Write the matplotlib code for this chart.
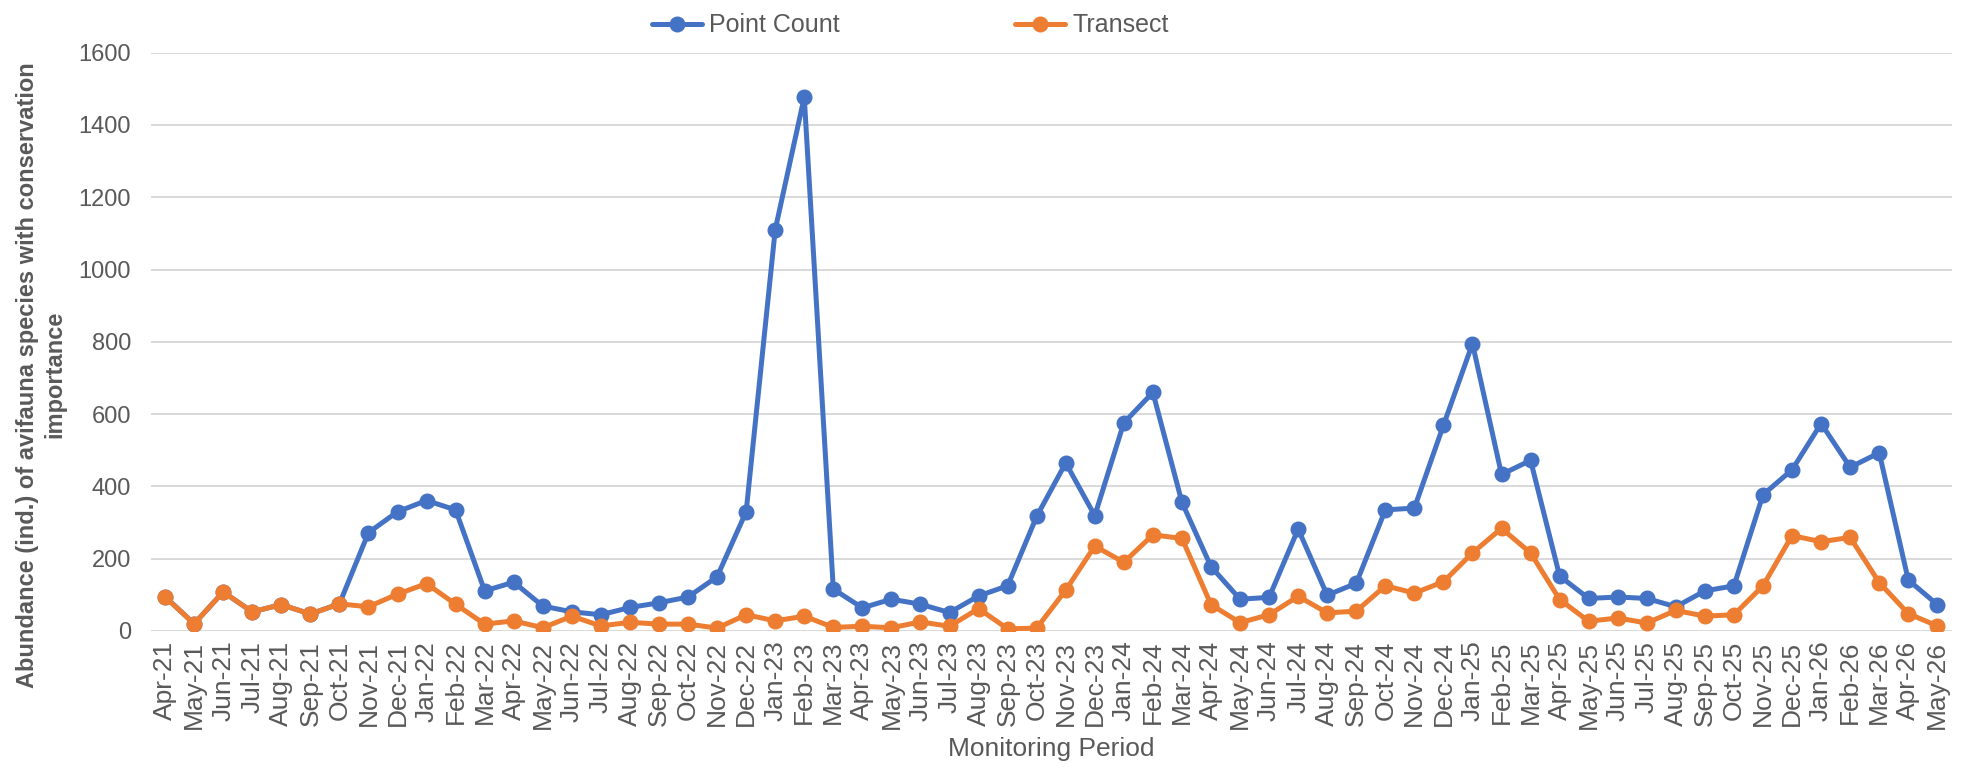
import matplotlib
matplotlib.use("Agg")
import matplotlib.pyplot as plt

plt.rcParams['font.family'] = ['Liberation Sans', 'DejaVu Sans']

months = ["Apr-21", "May-21", "Jun-21", "Jul-21", "Aug-21", "Sep-21", "Oct-21", "Nov-21", "Dec-21",
          "Jan-22", "Feb-22", "Mar-22", "Apr-22", "May-22", "Jun-22", "Jul-22", "Aug-22", "Sep-22",
          "Oct-22", "Nov-22", "Dec-22", "Jan-23", "Feb-23", "Mar-23", "Apr-23", "May-23", "Jun-23",
          "Jul-23", "Aug-23", "Sep-23", "Oct-23", "Nov-23", "Dec-23", "Jan-24", "Feb-24", "Mar-24",
          "Apr-24", "May-24", "Jun-24", "Jul-24", "Aug-24", "Sep-24", "Oct-24", "Nov-24", "Dec-24",
          "Jan-25", "Feb-25", "Mar-25", "Apr-25", "May-25", "Jun-25", "Jul-25", "Aug-25", "Sep-25",
          "Oct-25", "Nov-25", "Dec-25", "Jan-26", "Feb-26", "Mar-26", "Apr-26", "May-26"]

point_count = [95, 20, 108, 53, 73, 47, 75, 272, 330,
               361, 335, 111, 135, 69, 53, 45, 65, 78,
               94, 150, 330, 1110, 1477, 116, 64, 88, 74,
               51, 97, 125, 317, 465, 319, 576, 660, 356,
               178, 88, 93, 282, 99, 132, 335, 340, 569,
               795, 433, 472, 152, 90, 94, 90, 67, 111,
               125, 377, 446, 574, 453, 493, 141, 73]

transect = [94, 20, 108, 53, 73, 47, 75, 67, 102,
            131, 74, 19, 28, 9, 41, 14, 24, 19,
            19, 8, 45, 28, 41, 10, 13, 9, 25,
            13, 62, 6, 8, 113, 235, 190, 266, 256,
            73, 23, 45, 96, 50, 55, 125, 105, 136,
            216, 284, 216, 87, 27, 36, 22, 57, 41,
            45, 125, 264, 247, 259, 134, 48, 14]

series_names = ["Point Count", "Transect"]
colors = ["#4472C4", "#ED7D31"]
text_color = "#595959"

fig = plt.figure(figsize=(19.68, 7.68), dpi=100)
ax = fig.add_axes([0.0765, 0.1784, 0.9153, 0.753])

x = list(range(len(months)))
for vals, name, c in zip([point_count, transect], series_names, colors):
    ax.plot(x, vals, color=c, lw=3.6, marker='o', markersize=10.5, label=name,
            solid_joinstyle='round', solid_capstyle='round')

ax.set_xlim(-0.5, len(months) - 0.5)
ax.set_ylim(0, 1600)
ax.set_yticks(range(0, 1601, 200))
ax.set_xticks(x)
ax.set_xticklabels(months, rotation=90, fontsize=19, color=text_color)
ax.tick_params(axis='y', labelsize=17, labelcolor=text_color, length=0, pad=14)
ax.tick_params(axis='x', length=0, pad=7)
ax.grid(axis='y', color='#D9D9D9', lw=1.4)
ax.set_axisbelow(True)
for s in ax.spines.values():
    s.set_visible(False)

ax.set_xlabel("Monitoring Period", fontsize=19, color=text_color, labelpad=6)
fig.text(0.021, 0.512, "Abundance (ind.) of avifauna species with conservation\nimportance",
         rotation=90, ha='center', va='center', fontsize=17, fontweight='bold',
         color=text_color, multialignment='center', linespacing=1.25)

fig.legend(loc='upper center', bbox_to_anchor=(0.4624, 1.012), ncol=2, frameon=False,
           fontsize=18, labelcolor=text_color, handlelength=2.0, handletextpad=0.3,
           columnspacing=7.0)

fig.savefig("out.png", dpi=100)
